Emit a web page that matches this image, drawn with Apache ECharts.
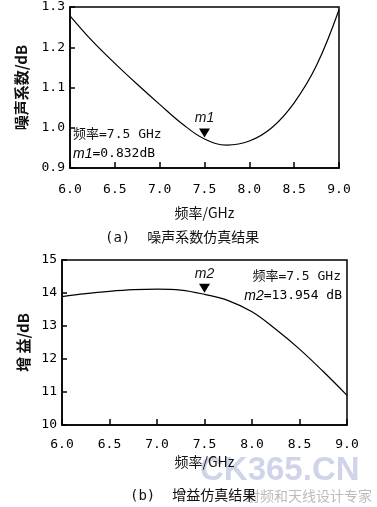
<!DOCTYPE html>
<html>
<head>
<meta charset="utf-8">
<script src="https://cdn.jsdelivr.net/npm/echarts@6/dist/echarts.min.js"></script>
<style>
  html, body { margin: 0; padding: 0; background: #fff; }
  #chart { width: 377px; height: 507px; }
</style>
</head>
<body>
<div id="chart"></div>
<script>
// frequency points (GHz), shared by both plots
var freq = [6.0, 6.25, 6.5, 6.75, 7.0, 7.25, 7.5, 7.75, 8.0, 8.25, 8.5, 8.75, 9.0];
// (a) noise figure / dB
var noiseFig = [1.278, 1.215, 1.160, 1.108, 1.058, 1.010, 0.972, 0.957, 0.967, 1.000, 1.062, 1.155, 1.293];
// (b) gain / dB
var gain = [13.89, 13.98, 14.05, 14.10, 14.12, 14.09, 13.96, 13.77, 13.43, 12.90, 12.30, 11.62, 10.90];

var xTicks = [6.0, 9.0, 0.5];
var noiseTicks = [0.9, 1.3, 0.1];
var gainTicks = [10, 15, 1];

var marker1 = { name: 'm1', freq: 7.5, value: 0.972, text: '0.832dB' };
var marker2 = { name: 'm2', freq: 7.5, value: 13.96, text: '13.954 dB' };

var FONT = '"DejaVu Sans Mono", "Noto Sans CJK JP", monospace';
var CJK = '"Noto Sans CJK JP", "DejaVu Sans Mono", sans-serif';

function pairs(xs, ys) {
  var out = [];
  for (var i = 0; i < xs.length; i++) out.push([xs[i], ys[i]]);
  return out;
}

function xAxisOf(idx, nameGap, margin) {
  return {
    gridIndex: idx, type: 'value',
    min: xTicks[0], max: xTicks[1], interval: xTicks[2],
    name: '频率/GHz', nameLocation: 'middle', nameGap: nameGap,
    nameTextStyle: { fontFamily: CJK, fontSize: 14, color: '#111' },
    axisLine: { lineStyle: { color: '#000', width: 1.5 } },
    axisTick: { inside: true, length: 6, lineStyle: { color: '#000', width: 1.5 } },
    axisLabel: { margin: margin, fontFamily: FONT, fontSize: 13, color: '#000',
      formatter: function (v) { return v.toFixed(1); } },
    splitLine: { show: false }
  };
}

function yAxisOf(idx, ticks, name, nameGap, digits) {
  return {
    gridIndex: idx, type: 'value',
    min: ticks[0], max: ticks[1], interval: ticks[2],
    name: name, nameLocation: 'middle', nameGap: nameGap, nameRotate: 90,
    nameTextStyle: { fontFamily: CJK, fontSize: 15, fontWeight: 'bold', color: '#111' },
    axisLine: { lineStyle: { color: '#000', width: 1.5 } },
    axisTick: { inside: true, length: 5, lineStyle: { color: '#000', width: 1.5 } },
    axisLabel: { margin: 5, fontFamily: FONT, fontSize: 13, color: '#000',
      formatter: function (v) { return v.toFixed(digits); } },
    splitLine: { show: false }
  };
}

function markerOf(m) {
  return {
    symbol: 'triangle',
    symbolRotate: 180,
    symbolSize: [11, 9],
    symbolOffset: [0, -6],
    itemStyle: { color: '#000' },
    label: { show: true, position: 'top', distance: 3, formatter: m.name,
      fontFamily: 'Liberation Sans', fontStyle: 'italic', fontSize: 14, color: '#111' },
    data: [{ coord: [m.freq, m.value] }]
  };
}

function lineOf(idx, data, m) {
  return {
    type: 'line', xAxisIndex: idx, yAxisIndex: idx,
    data: data, smooth: 0.4, showSymbol: false,
    lineStyle: { color: '#000', width: 1.2 },
    markPoint: markerOf(m),
    silent: true, animation: false
  };
}

var rich = {
  i: { fontFamily: 'Liberation Sans', fontStyle: 'italic', fontSize: 14, color: '#111' },
  n: { fontFamily: FONT, fontSize: 13, color: '#111' }
};

var chart = echarts.init(document.getElementById('chart'));
chart.setOption({
  backgroundColor: '#fff',
  animation: false,
  grid: [
    { left: 70, top: 7, width: 269, height: 161, show: true, borderColor: '#000', borderWidth: 1.5 },
    { left: 62, top: 260, width: 285, height: 165, show: true, borderColor: '#000', borderWidth: 1.5 }
  ],
  xAxis: [xAxisOf(0, 38, 15), xAxisOf(1, 30, 13)],
  yAxis: [
    yAxisOf(0, noiseTicks, '噪声系数/dB', 41, 1),
    yAxisOf(1, gainTicks, '增 益/dB', 29, 0)
  ],
  series: [
    lineOf(0, pairs(freq, noiseFig), marker1),
    lineOf(1, pairs(freq, gain), marker2)
  ],
  graphic: [
    { type: 'text', left: 73, top: 128, style: { text: '频率=' + marker1.freq.toFixed(1) + ' GHz', font: '13px ' + FONT, fill: '#111' } },
    { type: 'text', left: 73, top: 147, style: { text: '{i|' + marker1.name + '}{n|=' + marker1.text + '}', rich: rich } },
    { type: 'text', right: 36, top: 270, style: { text: '频率=' + marker2.freq.toFixed(1) + ' GHz', font: '13px ' + FONT, fill: '#111', align: 'right' } },
    { type: 'text', right: 35, top: 289, style: { text: '{i|' + marker2.name + '}{n|=' + marker2.text + '}', rich: rich, align: 'right' } },
    { type: 'text', left: 105, top: 231, style: { text: '(a)  噪声系数仿真结果', font: '14px ' + FONT, fill: '#111' } },
    { type: 'text', left: 200, top: 454, style: { text: 'CK365.CN', font: 'bold 33px "Liberation Sans"', fill: 'rgba(110,120,185,0.32)' } },
    { type: 'text', right: 5, top: 489, style: { text: '射频和天线设计专家', font: '14px ' + CJK, fill: 'rgba(120,120,120,0.5)', align: 'right' } },
    { type: 'text', left: 130, top: 489, style: { text: '(b)  增益仿真结果', font: '14px ' + FONT, fill: '#111' } }
  ]
});
</script>
</body>
</html>
